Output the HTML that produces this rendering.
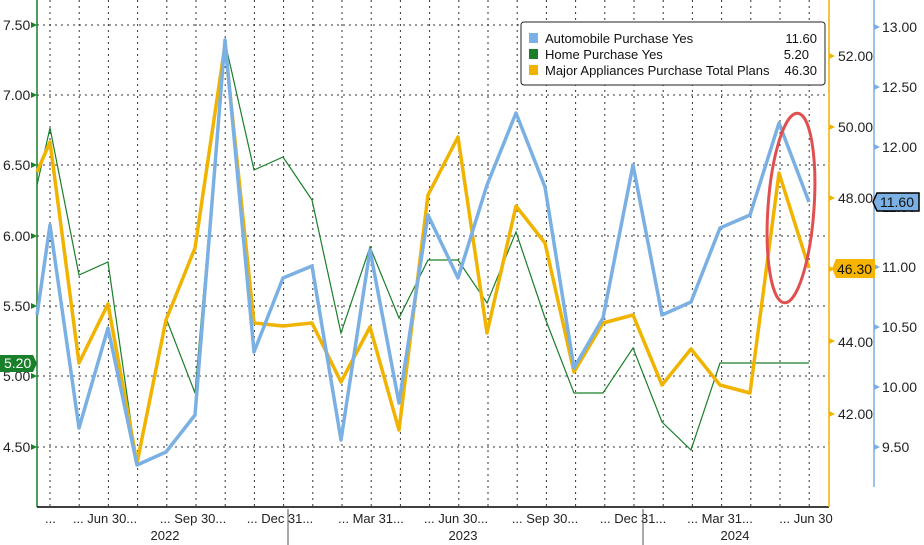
<!DOCTYPE html>
<html><head><meta charset="utf-8"><style>
html,body{margin:0;padding:0;background:#fff;}
svg{display:block;font-family:"Liberation Sans",sans-serif;}
</style></head><body>
<svg width="924" height="545" viewBox="0 0 924 545" xmlns="http://www.w3.org/2000/svg">
<rect width="924" height="545" fill="#fff"/>
<g stroke="#333" stroke-width="1" stroke-dasharray="2,4">
<line x1="37" y1="25" x2="829" y2="25"/><line x1="37" y1="95" x2="829" y2="95"/>
<line x1="37" y1="165" x2="829" y2="165"/><line x1="37" y1="236" x2="829" y2="236"/>
<line x1="37" y1="306" x2="829" y2="306"/><line x1="37" y1="376" x2="829" y2="376"/>
<line x1="37" y1="447" x2="829" y2="447"/>
<line x1="50" y1="0" x2="50" y2="507"/><line x1="79.2" y1="0" x2="79.2" y2="507"/><line x1="108.4" y1="0" x2="108.4" y2="507"/><line x1="137.6" y1="0" x2="137.6" y2="507"/><line x1="166.8" y1="0" x2="166.8" y2="507"/><line x1="196" y1="0" x2="196" y2="507"/><line x1="225.2" y1="0" x2="225.2" y2="507"/><line x1="254.4" y1="0" x2="254.4" y2="507"/><line x1="283.6" y1="0" x2="283.6" y2="507"/><line x1="312.8" y1="0" x2="312.8" y2="507"/><line x1="342" y1="0" x2="342" y2="507"/><line x1="371.2" y1="0" x2="371.2" y2="507"/><line x1="400.4" y1="0" x2="400.4" y2="507"/><line x1="429.6" y1="0" x2="429.6" y2="507"/><line x1="458.8" y1="0" x2="458.8" y2="507"/><line x1="488" y1="0" x2="488" y2="507"/><line x1="517.2" y1="0" x2="517.2" y2="507"/><line x1="546.4" y1="0" x2="546.4" y2="507"/><line x1="575.6" y1="0" x2="575.6" y2="507"/><line x1="604.8" y1="0" x2="604.8" y2="507"/><line x1="634" y1="0" x2="634" y2="507"/><line x1="663.2" y1="0" x2="663.2" y2="507"/><line x1="692.4" y1="0" x2="692.4" y2="507"/><line x1="721.6" y1="0" x2="721.6" y2="507"/><line x1="750.8" y1="0" x2="750.8" y2="507"/><line x1="780" y1="0" x2="780" y2="507"/><line x1="809.2" y1="0" x2="809.2" y2="507"/>
</g>
<!-- axes -->
<line x1="37" y1="0" x2="37" y2="507" stroke="#1a7f2a" stroke-width="1.5"/>
<line x1="37" y1="507" x2="829" y2="507" stroke="#000" stroke-width="1.5"/>
<line x1="829" y1="0" x2="829" y2="507" stroke="#f0b400" stroke-width="1.5"/>
<line x1="874" y1="0" x2="874" y2="487" stroke="#7aaee0" stroke-width="1.5"/>
<g font-size="14" fill="#222">
<text x="3" y="30">7.50</text><text x="3" y="100">7.00</text><text x="3" y="170">6.50</text>
<text x="3" y="241">6.00</text><text x="3" y="311">5.50</text><text x="3" y="381">5.00</text>
<text x="3" y="452">4.50</text>
<text x="838" y="61">52.00</text><text x="838" y="132">50.00</text><text x="838" y="203">48.00</text>
<text x="838" y="274">46.00</text><text x="838" y="347">44.00</text><text x="838" y="419">42.00</text>
<text x="882" y="32">13.00</text><text x="882" y="92">12.50</text><text x="882" y="152">12.00</text>
<text x="882" y="212">11.50</text><text x="882" y="272">11.00</text><text x="882" y="332">10.50</text>
<text x="882" y="392">10.00</text><text x="882" y="452">9.50</text>
</g>
<g fill="#1a7f2a">
<path d="M31,22l6,3l-6,3z"/><path d="M31,92l6,3l-6,3z"/><path d="M31,162l6,3l-6,3z"/><path d="M31,233l6,3l-6,3z"/><path d="M31,303l6,3l-6,3z"/><path d="M31,373l6,3l-6,3z"/><path d="M31,444l6,3l-6,3z"/>
</g>
<g fill="#f0b400">
<path d="M829,53l6,3l-6,3z"/><path d="M829,124l6,3l-6,3z"/><path d="M829,195l6,3l-6,3z"/><path d="M829,266l6,3l-6,3z"/><path d="M829,338l6,3l-6,3z"/><path d="M829,411l6,3l-6,3z"/>
</g>
<g fill="#7aaee0">
<path d="M874,24l6,3l-6,3z"/><path d="M874,84l6,3l-6,3z"/><path d="M874,144l6,3l-6,3z"/><path d="M874,204l6,3l-6,3z"/><path d="M874,264l6,3l-6,3z"/><path d="M874,324l6,3l-6,3z"/><path d="M874,384l6,3l-6,3z"/><path d="M874,444l6,3l-6,3z"/>
</g>
<!-- series -->
<polyline fill="none" stroke="#1a7f2a" stroke-width="1.2" points="37,185 50,128 79,275 108,262 137,465 166,318 195,393 225,42 254,170 283,157 312,200 341,333 370,247 399,318 428,260 458,260 487,303 516,232 545,318 574,393 603,393 633,348 662,422 691,450 720,363 750,363 779,363 809,363"/>
<polyline fill="none" stroke="#f0b400" stroke-width="3.5" stroke-linejoin="round" points="37,172 50,142 79,363 108,304 137,463 166,320 195,248 225,45 254,323 283,326 312,323 341,382 370,327 399,430 428,195 458,137 487,333 516,206 545,243 574,372 603,323 633,315 662,385 691,349 720,385 750,393 779,173 809,268"/>
<polyline fill="none" stroke="#7ab0e3" stroke-width="3.5" stroke-linejoin="round" points="37,315 50,225 79,428 108,328 137,465 166,452 195,415 225,40 254,352 283,278 312,266 341,440 370,250 399,403 428,215 458,278 487,185 516,113 545,187 574,368 603,318 633,165 662,315 691,302 720,228 750,215 779,123 809,202"/>
<!-- ellipse -->
<ellipse cx="791" cy="208" rx="23" ry="95" fill="none" stroke="#e05050" stroke-width="3" transform="rotate(4 791 208)"/>
<!-- legend -->
<rect x="521" y="22" width="304" height="63" rx="3" fill="#fff" stroke="#222" stroke-width="1"/>
<rect x="529" y="33" width="9" height="10" fill="#7ab0e3"/>
<rect x="529" y="49" width="9" height="10" fill="#1a7f2a"/>
<rect x="529" y="65" width="9" height="10" fill="#f0b400"/>
<g font-size="13" fill="#111">
<text x="545" y="43">Automobile Purchase Yes</text>
<text x="545" y="59">Home Purchase Yes</text>
<text x="545" y="75">Major Appliances Purchase Total Plans</text>
<text x="817" y="43" text-anchor="end">11.60</text>
<text x="809" y="59" text-anchor="end">5.20</text>
<text x="817" y="75" text-anchor="end">46.30</text>
</g>
<!-- tags -->
<path d="M0,355 H33 L37,363.5 L33,372 H0 Z" fill="#1a7f2a"/>
<text x="4" y="368" font-size="14" fill="#fff">5.20</text>
<path d="M877,193 H919 V211 H877 L873,202 Z" fill="#7ab0e3" stroke="#000" stroke-width="1.5"/>
<text x="880" y="207" font-size="14" fill="#111">11.60</text>
<path d="M836,259 H875 V278 H836 L832,268.5 Z" fill="#f7b400"/>
<text x="837" y="274" font-size="14" fill="#111">46.30</text>
<!-- x labels -->
<g font-size="13" fill="#222" font-family="Liberation Sans Narrow,Liberation Sans,sans-serif">
<text x="45" y="523">...</text>
<text x="105" y="523" text-anchor="middle">... Jun 30...</text>
<text x="193" y="523" text-anchor="middle">... Sep 30...</text>
<text x="280" y="523" text-anchor="middle">... Dec 31...</text>
<text x="371" y="523" text-anchor="middle">... Mar 31...</text>
<text x="456" y="523" text-anchor="middle">... Jun 30...</text>
<text x="545" y="523" text-anchor="middle">... Sep 30...</text>
<text x="633" y="523" text-anchor="middle">... Dec 31...</text>
<text x="720" y="523" text-anchor="middle">... Mar 31...</text>
<text x="806" y="523" text-anchor="middle">... Jun 30</text>
<text x="165" y="540" text-anchor="middle">2022</text>
<text x="463" y="540" text-anchor="middle">2023</text>
<text x="735" y="540" text-anchor="middle">2024</text>
</g>
<line x1="288" y1="509" x2="288" y2="545" stroke="#555"/>
<line x1="643" y1="509" x2="643" y2="545" stroke="#555"/>
</svg>
</body></html>
